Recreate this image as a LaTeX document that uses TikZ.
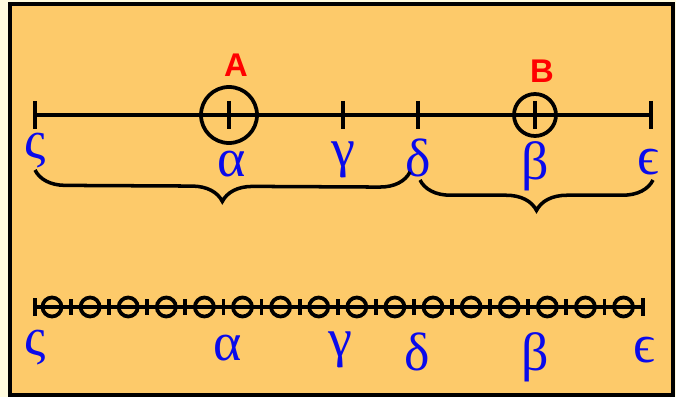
\documentclass[tikz,border=0pt]{standalone}
\usepackage{fontspec}
\setmainfont{Liberation Serif}
\newfontfamily\labfont{Liberation Sans}
\usetikzlibrary{calc,decorations.pathreplacing}
\definecolor{paper}{RGB}{255,251,222}
\definecolor{boxfill}{RGB}{253,202,106}
\definecolor{greekblue}{RGB}{10,10,235}
\tikzset{
  axis/.style={line width=3.2pt},
  tck/.style={line width=3.2pt},
  greek/.style={text=greekblue,font=\fontsize{46}{46}\selectfont,inner sep=0pt},
  mark label/.style={text=red,font=\labfont\bfseries\fontsize{28}{28}\selectfont,inner sep=0pt},
  curly/.style={line width=3pt,decorate,decoration={brace,mirror,amplitude=26}},
}
\begin{document}
\begin{tikzpicture}[x=0.03cm,y=-0.03cm]
                \useasboundingbox (0,0) rectangle (676,397);
                \fill[paper] (0,0) rectangle (676,397);
                \draw[fill=boxfill,draw=black,line width=3pt] (10,4) rectangle (673,395);
                % upper line
                \coordinate (S) at (35,115);
                \coordinate (A) at (229,115);
                \coordinate (G) at (343,115);
                \coordinate (D) at (418,115);
                \coordinate (B) at (535,115);
                \coordinate (E) at (651,115);
                \draw[axis] (S) -- (E);
                \foreach \p in {S,A,G,D,B,E}
                  \draw[tck] ($(\p)+(0,-14)$) -- ($(\p)+(0,14)$);
                \draw[axis] (A) circle (28);
                \draw[axis] (B) circle (21);
                \node[mark label] (lA) at (236,65) {A};
                \node[mark label] (lB) at (542,71) {B};
                \node[greek] (tS) at (35,151) {ς};
                \node[greek] (tA) at (232,164) {α};
                \node[greek] (tG) at (343,160) {γ};
                \node[greek] (tD) at (418,158) {δ};
                \node[greek] (tB) at (535,166) {β};
                \node[greek] (tE) at (648,162) {ϵ};
                \coordinate (c1) at (35,170);
                \coordinate (c2) at (410,172);
                \coordinate (c3) at (420,180);
                \coordinate (c4) at (653,180);
                \draw[curly] (c1) -- (c2);
                \draw[curly] (c3) -- (c4);
                % lower line
                \coordinate (S2) at (35,307);
                \coordinate (E2) at (643,307);
                \draw[axis] (S2) -- (E2);
                \draw[tck] ($(S2)+(0,-9)$) -- ($(S2)+(0,9)$);
                \draw[tck] ($(E2)+(0,-9)$) -- ($(E2)+(0,9)$);
                \foreach \i in {0,...,15}{
                  \coordinate (o\i) at ($(52,307)+(38.1*\i,0)$);
                  \draw[axis] (o\i) circle (9.5);
                }
                \foreach \i in {0,...,14}
                  \draw[tck] ($(o\i)+(19.05,-8)$) -- ($(o\i)+(19.05,8)$);
                \node[greek] (bS) at (35,348) {ς};
                \node[greek] (bA) at (228,348) {α};
                \node[greek] (bG) at (340,350) {γ};
                \node[greek] (bD) at (417,352) {δ};
                \node[greek] (bB) at (535,357) {β};
                \node[greek] (bE) at (644,350) {ϵ};
            \end{tikzpicture}
\end{document}
